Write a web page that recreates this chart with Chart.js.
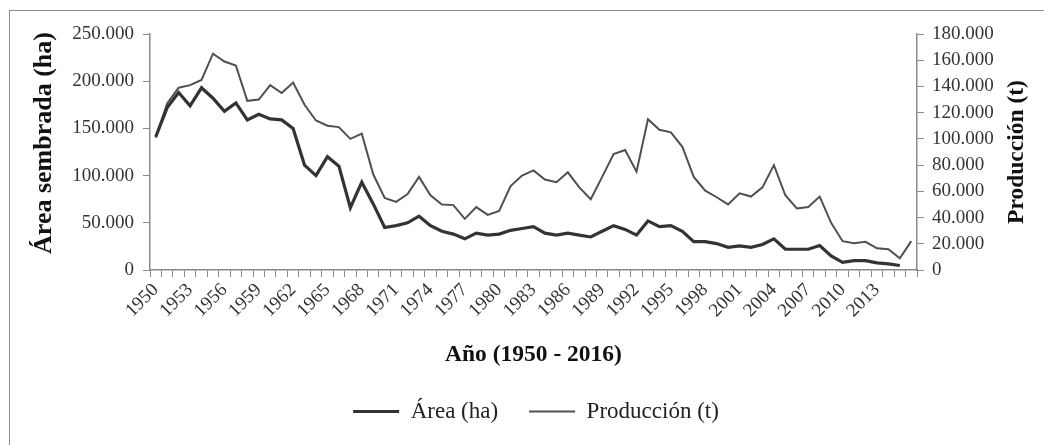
<!DOCTYPE html>
<html><head><meta charset="utf-8">
<script src="https://cdn.jsdelivr.net/npm/chart.js@4/dist/chart.umd.min.js"></script>
<style>
html,body{margin:0;padding:0;background:#fff;overflow:hidden;}
#wrap{position:relative;width:1044px;height:445px;overflow:hidden;background:#fff;}
#frame{position:absolute;left:9px;top:10px;width:1100px;height:500px;border:1px solid #8c8c8c;box-sizing:border-box;pointer-events:none;}
canvas{position:absolute;left:0;top:0;}
</style></head><body>
<div id="wrap"><canvas id="c" width="1044" height="445"></canvas><div id="frame"></div></div>
<script>
const years = ['1950','1951','1952','1953','1954','1955','1956','1957','1958','1959',
'1960','1961','1962','1963','1964','1965','1966','1967','1968','1969',
'1970','1971','1972','1973','1974','1975','1976','1977','1978','1979',
'1980','1981','1982','1983','1984','1985','1986','1987','1988','1989',
'1990','1991','1992','1993','1994','1995','1996','1997','1998','1999',
'2000','2001','2002','2003','2004','2005','2006','2007','2008','2009',
'2010','2011','2012','2013','2014','2015','2016'];

const xTickLabels = ['1950','1953','1956','1959','1962','1965','1968','1971','1974','1977',
'1980','1983','1986','1989','1992','1995','1998','2001','2004','2007','2010','2013'];

const areaHa = [141000,172000,188000,174000,193000,182000,168000,177000,159000,165000,
160000,159000,150000,111000,100000,120000,110000,66000,93000,70000,
45000,47000,50000,57000,47000,41000,38000,33000,39000,37000,
38000,42000,44000,46000,39000,37000,39000,37000,35000,41000,
47000,43000,37000,52000,46000,47000,41000,30000,30000,28000,
24000,25500,24000,27000,33000,22000,22000,22000,26000,15000,
8000,10000,10000,7500,6500,4800,null];

const produccionT = [101000,127000,139000,141000,145000,165000,159000,156000,129000,130000,
141000,135000,143000,126000,114000,110000,109000,100000,104000,73000,
55000,52000,58000,71000,57000,50000,49500,39000,48000,42000,
45000,64000,72000,76000,69000,67000,74500,63000,54000,71000,
88500,91500,75000,115000,107000,105000,94000,71000,60500,55500,
50000,58500,56000,63000,80000,57000,47000,48000,56000,36000,
22000,20500,21500,16500,15800,9000,22000];

const areaTicks = [0,50000,100000,150000,200000,250000];
const prodTicks = [0,20000,40000,60000,80000,100000,120000,140000,160000,180000];

const fmt = v => String(v).replace(/\B(?=(\d{3})+(?!\d))/g, '.');
const serif = '"Liberation Serif", "Times New Roman", serif';

const yTitles = {
  id: 'yTitles',
  afterDraw(chart) {
    const ctx = chart.ctx;
    const yl = chart.scales.y, yr = chart.scales.y2;
    ctx.save();
    ctx.fillStyle = '#111';
    ctx.textAlign = 'center';
    ctx.textBaseline = 'middle';
    ctx.font = 'bold 26px ' + serif;
    ctx.translate(yl.left + 6, (yl.top + yl.bottom) / 2 - 9);
    ctx.rotate(-Math.PI / 2);
    ctx.fillText('Área sembrada (ha)', 0, 0);
    ctx.restore();
    ctx.save();
    ctx.fillStyle = '#111';
    ctx.textAlign = 'center';
    ctx.textBaseline = 'middle';
    ctx.font = 'bold 23.5px ' + serif;
    ctx.translate(yr.right - 17, (yr.top + yr.bottom) / 2);
    ctx.rotate(-Math.PI / 2);
    ctx.fillText('Producción (t)', 0, 0);
    ctx.restore();
  }
};

new Chart(document.getElementById('c'), {
  type: 'line',
  data: {
    labels: years,
    datasets: [
      { label: 'Área (ha)', data: areaHa, yAxisID: 'y', borderColor: '#333333', backgroundColor: '#333333',
        borderWidth: 3.2, pointRadius: 0, tension: 0, spanGaps: false },
      { label: 'Producción (t)', data: produccionT, yAxisID: 'y2', borderColor: '#505050', backgroundColor: '#505050',
        borderWidth: 2, pointRadius: 0, tension: 0 }
    ]
  },
  options: {
    responsive: false,
    animation: false,
    layout: { padding: { left: 38, right: 10, top: 34, bottom: 12 } },
    plugins: {
      legend: {
        position: 'bottom',
        labels: {
          usePointStyle: true, pointStyle: 'line', pointStyleWidth: 46, boxHeight: 10,
          font: { family: serif, size: 23 }, color: '#222', padding: 31
        }
      },
      tooltip: { enabled: false }
    },
    scales: {
      x: {
        type: 'category',
        offset: true,
        grid: { offset: true, drawOnChartArea: false, tickLength: 7, color: '#8a8a8a' },
        border: { color: '#8a8a8a', width: 1.5 },
        ticks: {
          autoSkip: false, minRotation: 45, maxRotation: 45, padding: 2,
          font: { family: serif, size: 19 }, color: '#333',
          callback: (v, i) => (xTickLabels.includes(years[i]) ? years[i] : '')
        },
        title: { display: true, text: 'Año (1950 - 2016)', font: { family: serif, size: 23.5, weight: 'bold' }, color: '#111',
          padding: { top: 0, bottom: 0 } },
        afterFit: s => { s.height = 99; }
      },
      y: {
        position: 'left',
        min: 0, max: 250000,
        afterBuildTicks: s => { s.ticks = areaTicks.map(v => ({ value: v })); },
        grid: { drawOnChartArea: false, tickLength: 7, color: '#8a8a8a' },
        border: { color: '#8a8a8a', width: 1.5 },
        ticks: { autoSkip: false, font: { family: serif, size: 19 }, color: '#333', padding: 9, callback: v => fmt(v) },
        afterFit: s => { s.width = 112; }
      },
      y2: {
        position: 'right',
        min: 0, max: 180000,
        afterBuildTicks: s => { s.ticks = prodTicks.map(v => ({ value: v })); },
        grid: { drawOnChartArea: false, tickLength: 7, color: '#8a8a8a' },
        border: { color: '#8a8a8a', width: 1.5 },
        ticks: { autoSkip: false, font: { family: serif, size: 19 }, color: '#333', padding: 8, callback: v => fmt(v) },
        afterFit: s => { s.width = 117; }
      }
    }
  },
  plugins: [yTitles]
});
</script>
</body></html>
